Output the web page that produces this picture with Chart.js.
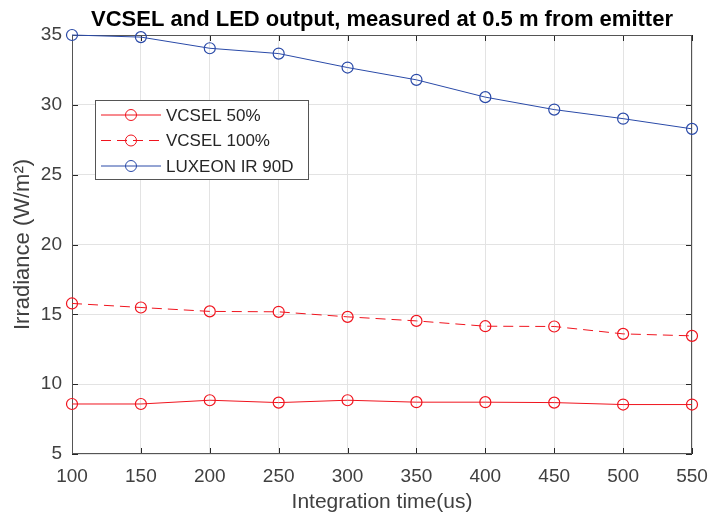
<!DOCTYPE html>
<html>
<head>
<meta charset="utf-8">
<script src="https://cdn.jsdelivr.net/npm/chart.js@4/dist/chart.umd.min.js"></script>
<style>
  html, body { margin: 0; padding: 0; background: #ffffff; }
  #wrap { width: 712px; height: 516px; }
</style>
</head>
<body>
<div id="wrap"><canvas id="c" width="712" height="516"></canvas></div>
<script>
// Integration time (us) on the x axis
const integrationTimes = [100, 150, 200, 250, 300, 350, 400, 450, 500, 550];
// Irradiance (W/m²) at 0.5 m
const vcsel50  = [8.58, 8.58, 8.85, 8.68, 8.85, 8.71, 8.71, 8.68, 8.54, 8.54];
const vcsel100 = [15.78, 15.49, 15.21, 15.18, 14.82, 14.53, 14.15, 14.13, 13.60, 13.46];
const luxeon   = [35.00, 34.85, 34.05, 33.67, 32.67, 31.79, 30.55, 29.66, 29.01, 28.28];

const seriesLabels = ['VCSEL 50%', 'VCSEL 100%', 'LUXEON IR 90D'];
const xTicks = [100, 150, 200, 250, 300, 350, 400, 450, 500, 550];
const yTicks = [5, 10, 15, 20, 25, 30, 35];

const FONT = '"Liberation Sans", Arial, Helvetica, sans-serif';
const RED = '#f0141e';
const BLUE = '#2a4aa8';
const AXIS = '#262626';
const TEXT = '#404040';

const toPoints = vals => integrationTimes.map((t, i) => ({ x: t, y: vals[i] }));

// Axes box with inward tick marks on all four sides
const axesBox = {
  id: 'axesBox',
  beforeDatasetsDraw(chart) {
    const { ctx, chartArea: a, scales: { x, y } } = chart;
    const L = 6;
    ctx.save();
    ctx.strokeStyle = AXIS;
    ctx.lineWidth = 1;
    ctx.beginPath();
    xTicks.forEach(v => {
      const px = Math.round(x.getPixelForValue(v)) + 0.5;
      ctx.moveTo(px, a.bottom); ctx.lineTo(px, a.bottom - L);
      ctx.moveTo(px, a.top); ctx.lineTo(px, a.top + L);
    });
    yTicks.forEach(v => {
      const py = Math.round(y.getPixelForValue(v)) + 0.5;
      ctx.moveTo(a.left, py); ctx.lineTo(a.left + L, py);
      ctx.moveTo(a.right, py); ctx.lineTo(a.right - L, py);
    });
    ctx.stroke();
    ctx.strokeStyle = '#555555';
    ctx.strokeRect(Math.round(a.left) + 0.5, Math.round(a.top) + 0.5,
                   Math.round(a.width) - 1, Math.round(a.height) - 1);
    ctx.restore();
  }
};

// Boxed legend inside the plot area, upper left
const boxLegend = {
  id: 'boxLegend',
  afterDraw(chart) {
    const { ctx, chartArea: a } = chart;
    const bx = a.left + 23, by = a.top + 65, bw = 213, bh = 79;
    ctx.save();
    ctx.fillStyle = '#ffffff';
    ctx.fillRect(bx, by, bw, bh);
    ctx.strokeStyle = '#555555';
    ctx.lineWidth = 1;
    ctx.strokeRect(bx + 0.5, by + 0.5, bw, bh);
    ctx.font = '17px ' + FONT;
    ctx.textBaseline = 'middle';
    chart.data.datasets.forEach((ds, i) => {
      const cy = by + 15 + i * 25.5;
      ctx.strokeStyle = ds.borderColor;
      ctx.lineWidth = 1;
      ctx.setLineDash(ds.borderDash || []);
      ctx.beginPath();
      ctx.moveTo(bx + 6, cy); ctx.lineTo(bx + 66, cy);
      ctx.stroke();
      ctx.setLineDash([]);
      ctx.beginPath();
      ctx.arc(bx + 36, cy, 5.5, 0, Math.PI * 2);
      ctx.stroke();
      ctx.fillStyle = '#262626';
      ctx.fillText(ds.label, bx + 71, cy + 1);
    });
    ctx.restore();
  }
};

const makeSet = (label, vals, color, dash) => ({
  label,
  data: toPoints(vals),
  borderColor: color,
  backgroundColor: 'rgba(0,0,0,0)',
  borderWidth: 1,
  borderDash: dash,
  pointStyle: 'circle',
  pointRadius: 5.5,
  pointHoverRadius: 5.5,
  pointBorderWidth: 1.2,
  pointBorderColor: color,
  pointBackgroundColor: 'rgba(0,0,0,0)',
  tension: 0,
  clip: false
});

new Chart(document.getElementById('c'), {
  type: 'line',
  data: {
    datasets: [
      makeSet(seriesLabels[0], vcsel50, RED, []),
      makeSet(seriesLabels[1], vcsel100, RED, [10, 6]),
      makeSet(seriesLabels[2], luxeon, BLUE, [])
    ]
  },
  options: {
    responsive: false,
    animation: false,
    layout: { padding: { left: 0, right: 20, top: 0, bottom: 0 } },
    plugins: {
      legend: { display: false },
      tooltip: { enabled: false },
      title: {
        display: true,
        fullSize: false,
        text: 'VCSEL and LED output, measured at 0.5 m from emitter',
        color: '#000000',
        font: { family: FONT, size: 22, weight: 'bold', lineHeight: 1.2 },
        padding: { top: 7, bottom: 1.6 }
      }
    },
    scales: {
      x: {
        type: 'linear',
        min: 100, max: 550,
        afterBuildTicks: s => { s.ticks = xTicks.map(v => ({ value: v })); },
        afterFit: s => { s.height = 62; s.paddingLeft = 0; s.paddingRight = 0; },
        grid: { color: '#e3e3e3', drawTicks: false },
        border: { display: false },
        ticks: { color: TEXT, font: { family: FONT, size: 19 }, padding: 11, maxRotation: 0 },
        title: {
          display: true,
          text: 'Integration time(us)',
          color: TEXT,
          font: { family: FONT, size: 21, lineHeight: 1.2 },
          padding: { top: 0, bottom: 1 }
        }
      },
      y: {
        min: 5, max: 35,
        afterBuildTicks: s => { s.ticks = yTicks.map(v => ({ value: v })); },
        afterFit: s => { s.width = 72; s.paddingTop = 0; s.paddingBottom = 0; },
        grid: { color: '#e3e3e3', drawTicks: false },
        border: { display: false },
        ticks: { color: TEXT, font: { family: FONT, size: 19 }, padding: 10 },
        title: {
          display: true,
          text: 'Irradiance (W/m²)',
          color: TEXT,
          font: { family: FONT, size: 22, lineHeight: 1.2 },
          padding: { top: 10, bottom: 0 }
        }
      }
    }
  },
  plugins: [axesBox, boxLegend]
});
</script>
</body>
</html>
